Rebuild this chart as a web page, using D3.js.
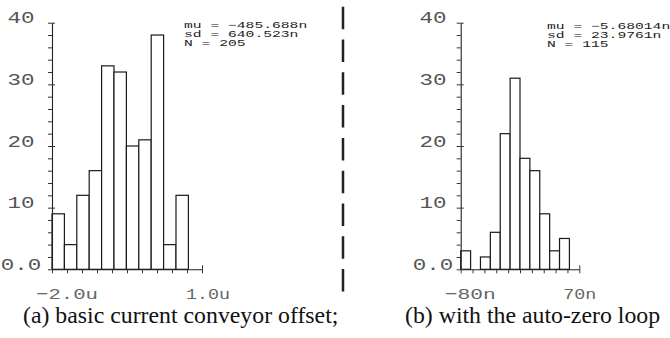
<!DOCTYPE html>
<html>
<head>
<meta charset="utf-8">
<script src="https://cdn.jsdelivr.net/npm/d3@7"></script>
<style>
  body { margin: 0; background: #fff; }
</style>
</head>
<body>
<svg id="chart" width="670" height="338"></svg>
<script>
// histogram counts, 11 bins each
const leftCounts = [9, 4, 12, 16, 33, 32, 20, 21, 38, 4, 12];
const rightCounts = [3, 0, 2, 6, 22, 31, 18, 16, 9, 3, 5];
// x axis range (A) and bin width
const leftRange = [-2.0e-6, 1.0e-6];
const rightRange = [-80e-9, 70e-9];
const leftBinWidth = 0.248e-6;
const rightBinWidth = 12.5e-9;
const leftXLabels = ["\u22122.0u", "1.0u"];
const rightXLabels = ["\u221280n", "70n"];
const yTicks = [0, 10, 20, 30, 40];
const yTickLabels = ["0.0", "10", "20", "30", "40"];
const leftStats = ["mu = \u2212485.688n", "sd = 640.523n", "N = 205"];
const rightStats = ["mu = \u22125.68014n", "sd = 23.9761n", "N = 115"];
const captions = ["(a) basic current conveyor offset;", "(b) with the auto-zero loop"];

const svg = d3.select("#chart");
const monoFont = "'Liberation Mono', 'DejaVu Sans Mono', monospace";

const y = d3.scaleLinear().domain([0, 40]).range([269.3, 22.7]);

const panels = [
  { counts: leftCounts, range: leftRange, binWidth: leftBinWidth, xLabels: leftXLabels,
    stats: leftStats, caption: captions[0], x0: 52, x1: 202, labelX: 21, statsX: 184, statsY: 28, capX: 23 },
  { counts: rightCounts, range: rightRange, binWidth: rightBinWidth, xLabels: rightXLabels,
    stats: rightStats, caption: captions[1], x0: 460.7, x1: 579.3, labelX: 433, statsX: 547, statsY: 29, capX: 405 }
];

// cadence-style labels are wide; the minus sign takes a bit more room
function labelWidth(s, adv) {
  return s.length * adv + (s[0] === "\u2212" ? 7 : 0);
}

panels.forEach(p => {
  const x = d3.scaleLinear().domain(p.range).range([p.x0, p.x1]);
  const g = svg.append("g");

  // bars
  const bins = p.counts.map((c, i) => ({ c: c, a: p.range[0] + i * p.binWidth }));
  g.selectAll("rect.bar")
    .data(bins.filter(d => d.c > 0))
    .enter()
    .append("rect")
    .attr("class", "bar")
    .attr("x", d => x(d.a))
    .attr("y", d => y(d.c))
    .attr("width", d => x(d.a + p.binWidth) - x(d.a))
    .attr("height", d => y(0) - y(d.c))
    .attr("fill", "#fff")
    .attr("stroke", "#1a1a1a")
    .attr("stroke-width", 1.2);

  // y axis, minor ticks every 2
  g.append("g")
    .attr("transform", "translate(" + p.x0 + ",0)")
    .call(d3.axisLeft(y).tickValues(d3.range(0, 41, 2)).tickSize(4).tickSizeOuter(0).tickFormat(""));
  // major ticks cross the axis
  const yMajor = g.append("g")
    .attr("transform", "translate(" + p.x0 + ",0)")
    .call(d3.axisRight(y).tickValues(yTicks.slice(1)).tickSize(3).tickFormat(""));
  yMajor.select(".domain").remove();

  // x axis
  const step = (p.range[1] - p.range[0]) / 10;
  g.append("g")
    .attr("transform", "translate(0," + y(0) + ")")
    .call(d3.axisBottom(x).tickValues(d3.range(11).map(i => p.range[0] + i * step)).tickSize(4).tickSizeOuter(0).tickFormat(""));
  const xEnd = g.append("g")
    .attr("transform", "translate(0," + y(0) + ")")
    .call(d3.axisTop(x).tickValues([p.range[1]]).tickSize(4).tickFormat(""));
  xEnd.select(".domain").remove();

  g.selectAll(".domain").attr("stroke", "#222").attr("stroke-width", 1.1);
  g.selectAll(".tick line").attr("stroke", "#333");

  // y labels sit just above their tick
  g.selectAll("text.ylab")
    .data(yTicks)
    .enter()
    .append("text")
    .attr("class", "ylab")
    .attr("x", p.labelX)
    .attr("y", d => y(d) + 0.5)
    .attr("text-anchor", "middle")
    .attr("font-family", monoFont)
    .attr("font-size", 16)
    .attr("fill", "#555")
    .attr("textLength", (d, i) => yTickLabels[i].length * 13.5)
    .attr("lengthAdjust", "spacingAndGlyphs")
    .text((d, i) => yTickLabels[i]);

  // x labels at both ends of the range
  g.selectAll("text.xlab")
    .data(p.range)
    .enter()
    .append("text")
    .attr("class", "xlab")
    .attr("x", d => x(d) - 16)
    .attr("y", 299)
    .attr("font-family", monoFont)
    .attr("font-size", 15.5)
    .attr("fill", "#666")
    .attr("textLength", (d, i) => labelWidth(p.xLabels[i], 11))
    .attr("lengthAdjust", "spacingAndGlyphs")
    .text((d, i) => p.xLabels[i]);

  // stats block
  g.selectAll("text.stat")
    .data(p.stats)
    .enter()
    .append("text")
    .attr("class", "stat")
    .attr("x", p.statsX)
    .attr("y", (d, i) => p.statsY + i * 8.8)
    .attr("font-family", monoFont)
    .attr("font-size", 9)
    .attr("fill", "#222")
    .attr("textLength", d => d.length * 8.8)
    .attr("lengthAdjust", "spacingAndGlyphs")
    .text(d => d);

  // caption
  svg.append("text")
    .attr("x", p.capX)
    .attr("y", 322.5)
    .attr("font-family", "'Liberation Serif', 'Times New Roman', serif")
    .attr("font-size", 23.8)
    .attr("fill", "#111")
    .text(p.caption);
});

// dashed separator between the two panels
svg.append("line")
  .attr("x1", 343).attr("x2", 343)
  .attr("y1", 6.7).attr("y2", 293.5)
  .attr("stroke", "#222")
  .attr("stroke-width", 2.5)
  .attr("stroke-dasharray", "22.5 10.3");
</script>
</body>
</html>
